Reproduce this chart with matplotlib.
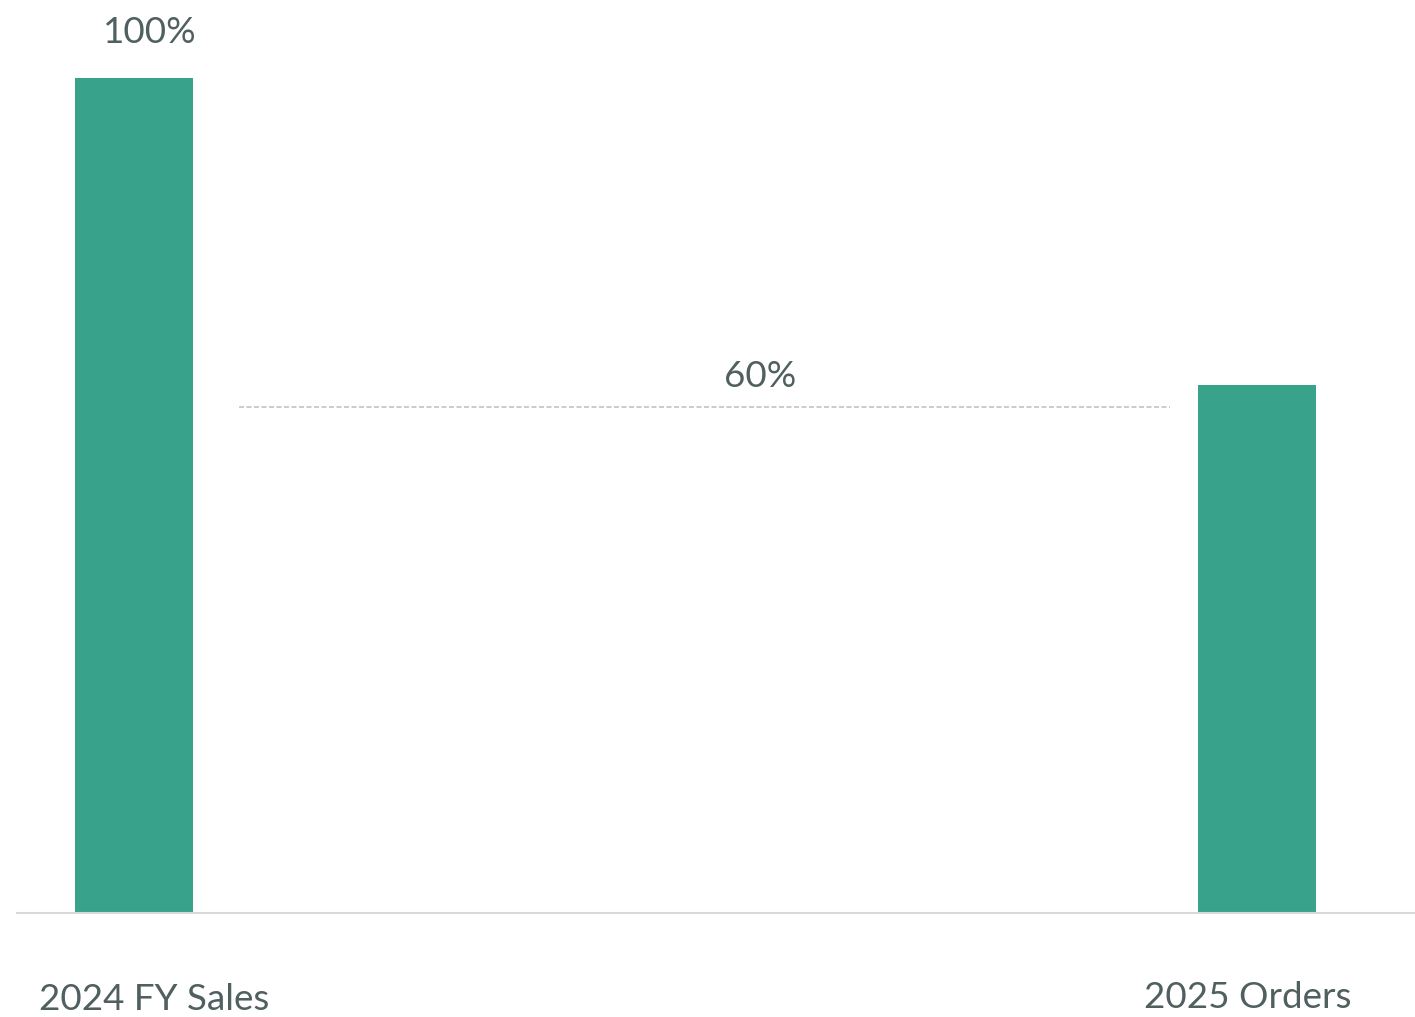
import matplotlib.pyplot as plt
from matplotlib import font_manager

categories = ["2024 FY Sales", "2025 Orders"]
values = [100, 63.2]
value_labels = ["100%", ""]
target_value = 60.6
target_label = "60%"

BAR = "#38a38a"
TXT = "#505f5f"

names = {f.name for f in font_manager.fontManager.ttflist}
family = "Lato" if "Lato" in names else "DejaVu Sans"
plt.rcParams["font.family"] = [family, "DejaVu Sans"]
FS = 26.5

fig = plt.figure(figsize=(14.15, 10.17), dpi=100)
ax = fig.add_axes([17 / 1415, 104 / 1017, 1 - 17 / 1415, 913 / 1017])

xs = list(range(len(categories)))
ax.bar(xs, values, width=0.105, color=BAR)
ax.set_xlim(-0.104, 1.141)
ax.set_ylim(0, 109.3)

# dashed reference line between the bars
ax.hlines(target_value, 0.0935, 0.9225, colors="#c4c4c4", linestyles=(0, (3, 1.5)), linewidth=1.2)
ax.annotate(target_label, xy=(0.558, target_value), xytext=(0, 14.4), textcoords="offset points",
            ha="center", va="baseline", fontsize=FS, color=TXT)

for x, v, lab in zip(xs, values, value_labels):
    if lab:
        ax.annotate(lab, xy=(x, v), xytext=(11.5, 25), textcoords="offset points",
                    ha="center", va="baseline", fontsize=FS, color=TXT)

offsets = [(14.4, -70), (-6.5, -68.4)]
for x, cat, (dx, dy) in zip(xs, categories, offsets):
    ax.annotate(cat, xy=(x, 0), xytext=(dx, dy), textcoords="offset points",
                ha="center", va="baseline", fontsize=FS, color=TXT)

for s in ["top", "right", "left"]:
    ax.spines[s].set_visible(False)
ax.spines["bottom"].set_color("#d9d9d9")
ax.spines["bottom"].set_linewidth(1.5)
ax.set_xticks([])
ax.set_yticks([])

fig.savefig("out.png", dpi=100, facecolor="white")
